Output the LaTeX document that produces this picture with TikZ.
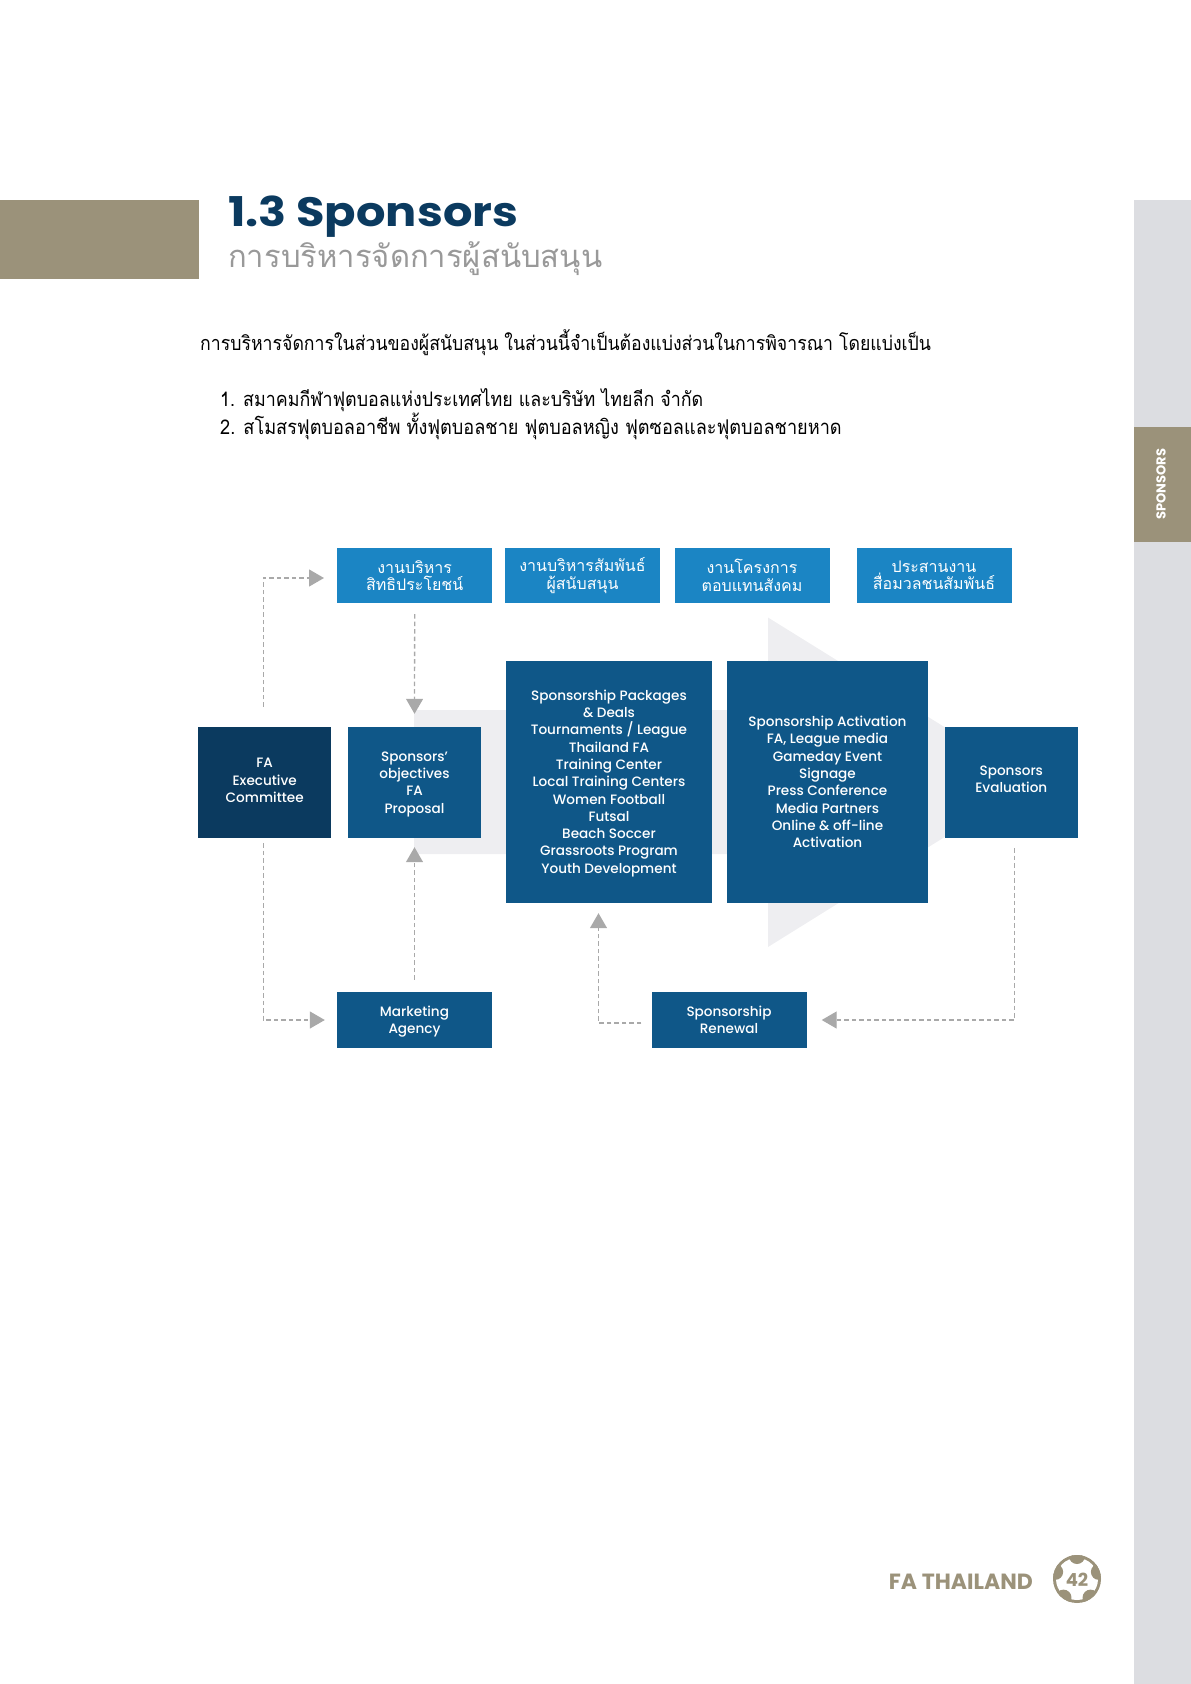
\documentclass[tikz,border=0pt]{standalone}
\usepackage{fontspec}
\setmainfont{Poppins}
\newfontfamily\boxfont{Poppins Medium}
\newfontfamily\titlefont[FakeStretch=1.13]{Poppins}
\newfontfamily\thaifont[Script=Thai]{Loma}
\newfontfamily\thaibody[Script=Thai,FakeStretch=0.893]{Loma}
\usetikzlibrary{arrows.meta}

\definecolor{tan}{HTML}{9B927A}
\definecolor{strip}{HTML}{DCDDE1}
\definecolor{navy}{HTML}{0B3A5F}
\definecolor{midblue}{HTML}{0F5788}
\definecolor{topblue}{HTML}{1B85C4}
\definecolor{pale}{HTML}{EEEEF1}
\definecolor{link}{HTML}{A9A9A9}

\tikzset{
  box/.style={fill=midblue,text=white,align=center,inner sep=0pt,
    font=\boxfont\fontsize{13.6}{17.3}\selectfont},
  thaibox/.style={box,fill=topblue,minimum width=155pt,minimum height=55pt,
    font=\thaifont\fontsize{16}{17.5}\selectfont},
  bodytext/.style={anchor=base west,inner sep=0pt,font=\thaibody\fontsize{20}{24}\selectfont},
  dashlink/.style={link,line width=1.3pt,dash pattern=on 4.5pt off 3pt,
    -{Triangle[length=15pt,width=17pt]}}
}

\begin{document}
\begin{tikzpicture}[x=1pt,y=-1pt]

\useasboundingbox (0,0) rectangle (1191,1684);

\fill[strip] (1134,200) rectangle (1191,1684);
\fill[tan] (1134,427) rectangle (1191,542);
\fill[tan] (0,200) rectangle (199,279);
\node[rotate=90,text=white,font=\bfseries\fontsize{13}{15}\selectfont] (tab) at (1161,484) {SPONSORS};

\node[anchor=base west,inner sep=0pt,text=navy,font=\titlefont\bfseries\fontsize{41}{46}\selectfont] (title) at (228,226.7) {1.3 Sponsors};
\node[anchor=base west,inner sep=0pt,text=black!40,font=\thaifont\fontsize{31}{36}\selectfont] (subtitle) at (228,267) {การบริหารจัดการผู้สนับสนุน};

\node[bodytext,font=\thaibody\fontsize{19.8}{24}\selectfont] (intro) at (200,350) {การบริหารจัดการในส่วนของผู้สนับสนุน ในส่วนนี้จำเป็นต้องแบ่งส่วนในการพิจารณา โดยแบ่งเป็น};
\node[bodytext] (first) at (220,406) {1. สมาคมกีฬาฟุตบอลแห่งประเทศไทย และบริษัท ไทยลีก จำกัด};
\node[bodytext,font=\thaibody\fontsize{20.3}{24}\selectfont] (second) at (220,434) {2. สโมสรฟุตบอลอาชีพ ทั้งฟุตบอลชาย ฟุตบอลหญิง ฟุตซอลและฟุตบอลชายหาด};

% big arrow behind the boxes
\fill[pale] (414,710)--(768,710)--(768,617.5)--(1033,782)--(768,947)--(768,854)--(414,854)--cycle;

\node[thaibox] (benefit) at (414.7,575.5) {งานบริหาร\\สิทธิประโยชน์};
\node[thaibox] (relation) at (582.5,575.5) {งานบริหารสัมพันธ์\\ผู้สนับสนุน};
\node[thaibox] (social) at (752,575.5) {งานโครงการ\\ตอบแทนสังคม};
\node[thaibox] (media) at (934,575.5) {ประสานงาน\\สื่อมวลชนสัมพันธ์};

\node[box,fill=navy,minimum width=133pt,minimum height=111pt,text depth=4.3pt] (exec) at (264.7,782.5) {FA\\Executive\\Committee};
\node[box,minimum width=133pt,minimum height=111pt,text depth=-3.4pt] (objective) at (414.5,782.5) {Sponsors’\\objectives\\FA\\Proposal};
\node[box,minimum width=206pt,minimum height=242pt,text depth=1pt] (package) at (609,782) {Sponsorship Packages\\\& Deals\\Tournaments / League\\Thailand FA\\Training Center\\Local Training Centers\\Women Football\\Futsal\\Beach Soccer\\Grassroots Program\\Youth Development};
\node[box,minimum width=201pt,minimum height=242pt] (activation) at (827.5,782) {Sponsorship Activation\\FA, League media\\Gameday Event\\Signage\\Press Conference\\Media Partners\\Online \& off-line\\Activation};
\node[box,minimum width=133pt,minimum height=111pt,text depth=6.4pt] (evaluation) at (1011.3,782.5) {Sponsors\\Evaluation};
\node[box,minimum width=155pt,minimum height=56pt,text depth=-5.6pt] (agency) at (414.5,1020) {Marketing\\Agency};
\node[box,minimum width=155pt,minimum height=56pt,text depth=-4.3pt] (renewal) at (729,1020) {Sponsorship\\Renewal};

\draw[dashlink,shorten <=20pt,shorten >=13pt] ([xshift=-1.5pt]exec.north) |- ([yshift=-2.5pt]benefit.west);
\draw[dashlink,shorten <=11pt,shorten >=13pt] (benefit.south) -- (objective.north);
\draw[dashlink,shorten <=5pt,shorten >=12pt] ([xshift=-1.5pt]exec.south) |- (agency.west);
\draw[dashlink,shorten <=12pt,shorten >=9pt] (agency.north) -- (objective.south);
\draw[dashlink,shorten <=10pt,shorten >=10pt] ([yshift=-3pt]renewal.west) -| ([xshift=-10.5pt]package.south);
\draw[dashlink,shorten <=10pt,shorten >=15pt] ([xshift=3pt]evaluation.south) |- (renewal.east);

\node[anchor=base east,inner sep=0pt,text=tan,font=\bfseries\fontsize{22}{24}\selectfont] (brand) at (1033,1589) {FA THAILAND};
\fill[tan] (1077,1579) circle (24);
\fill[white] (1077,1579) circle (21);
\begin{scope}
\clip (1077,1579) circle (24);
\foreach \ang in {18,90,162,234,306}
  \fill[tan] (1077,1579) ++(\ang:-23) circle (8);
\end{scope}
\node[text=tan,inner sep=0pt,font=\bfseries\fontsize{18}{20}\selectfont] (page) at (1077,1580) {42};

\end{tikzpicture}
\end{document}
